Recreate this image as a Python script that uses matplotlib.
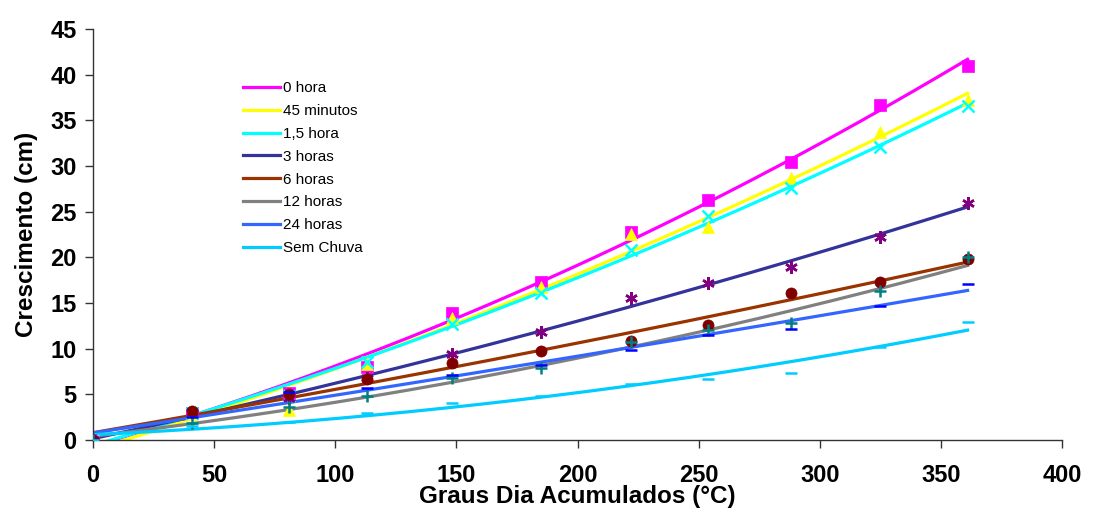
import numpy as np
import matplotlib
matplotlib.use("Agg")
import matplotlib.pyplot as plt

plt.rcParams['font.family'] = ['Liberation Sans', 'DejaVu Sans']

# Graus dia acumulados
x = [0, 41, 81, 113, 148, 185, 222, 254, 288, 325, 361]

labels = ["0 hora", "45 minutos", "1,5 hora", "3 horas", "6 horas",
          "12 horas", "24 horas", "Sem Chuva"]

zero_h = [0, 3.0, 5.2, 8.0, 13.9, 17.3, 22.8, 26.3, 30.4, 36.7, 41.0]
min45 = [0, 2.8, 3.3, 8.3, 13.4, 16.8, 22.6, 23.3, 28.7, 33.7, 37.2]
h1_5 = [0, 3.0, 4.8, 8.5, 12.7, 16.1, 20.8, 24.5, 27.6, 32.1, 36.6]
h3 = [0, 3.1, 4.6, 6.8, 9.4, 11.8, 15.5, 17.2, 18.9, 22.2, 25.9]
h6 = [0, 3.2, 5.0, 6.7, 8.4, 9.7, 10.8, 12.6, 16.1, 17.3, 19.8]
h12 = [0, 1.9, 3.6, 4.8, 6.8, 7.9, 10.7, 12.0, 12.8, 16.3, 20.0]
h24 = [0, 2.5, 5.3, 5.7, 7.1, 8.2, 9.9, 11.5, 12.1, 14.7, 17.1]
sem = [0, 1.5, 2.0, 3.0, 4.1, 4.8, 6.1, 6.7, 7.3, 10.2, 12.9]

series = [zero_h, min45, h1_5, h3, h6, h12, h24, sem]
line_colors = ["#FF00FF", "#FFFF00", "#00FFFF", "#333399", "#993300",
               "#808080", "#3366FF", "#00CCFF"]
marker_colors = ["#FF00FF", "#FFFF00", "#00FFFF", "#800080", "#800000",
                 "#008080", "#0000FF", "#00CCFF"]
markers = ["s", "^", "x", (6, 2, 0), "o", "+", "_", "_"]

fig = plt.figure(figsize=(11.13, 5.12), dpi=100)
ax = fig.add_axes([0.0836, 0.1406, 0.8706, 0.8028])

xs = np.array(x, dtype=float)
xfit = np.linspace(0, xs.max(), 200)
handles = []
for vals, lc, mc, mk, lab in zip(series, line_colors, marker_colors, markers, labels):
    coef = np.polyfit(xs, np.array(vals), 2)
    h, = ax.plot(xfit, np.polyval(coef, xfit), color=lc, lw=2.3, label=lab, zorder=2)
    handles.append(h)
    if mk in ("s", "^", "o"):
        ax.plot(xs, vals, linestyle="none", marker=mk, color=mc, markersize=8,
                markeredgewidth=0.5, zorder=3)
    else:
        ax.plot(xs, vals, linestyle="none", marker=mk, color=mc, markersize=9,
                markeredgewidth=1.8, zorder=3)

ax.set_xlim(0, 400)
ax.set_ylim(0, 45)
ax.set_xticks(range(0, 401, 50))
ax.set_yticks(range(0, 46, 5))
for s in ("top", "right"):
    ax.spines[s].set_visible(False)
for s in ("left", "bottom"):
    ax.spines[s].set_color("#333333")
    ax.spines[s].set_linewidth(1.0)
ax.tick_params(axis="both", direction="out", length=6, width=1, color="#333333",
               labelsize=17)
ax.tick_params(axis="x", pad=11)
ax.tick_params(axis="y", pad=6)
for t in ax.get_xticklabels() + ax.get_yticklabels():
    t.set_fontweight("bold")
ax.set_xlabel("Graus Dia Acumulados (°C)", fontsize=17.5, fontweight="bold", labelpad=-1)
ax.set_ylabel("Crescimento (cm)", fontsize=17.5, fontweight="bold", labelpad=9)

ax.legend(handles=handles, loc="upper left", bbox_to_anchor=(0.155, 0.873),
          frameon=False, fontsize=11, handlelength=2.4, handletextpad=0.2,
          labelspacing=0.58, borderpad=0, borderaxespad=0)

fig.savefig("out.png", dpi=100)
